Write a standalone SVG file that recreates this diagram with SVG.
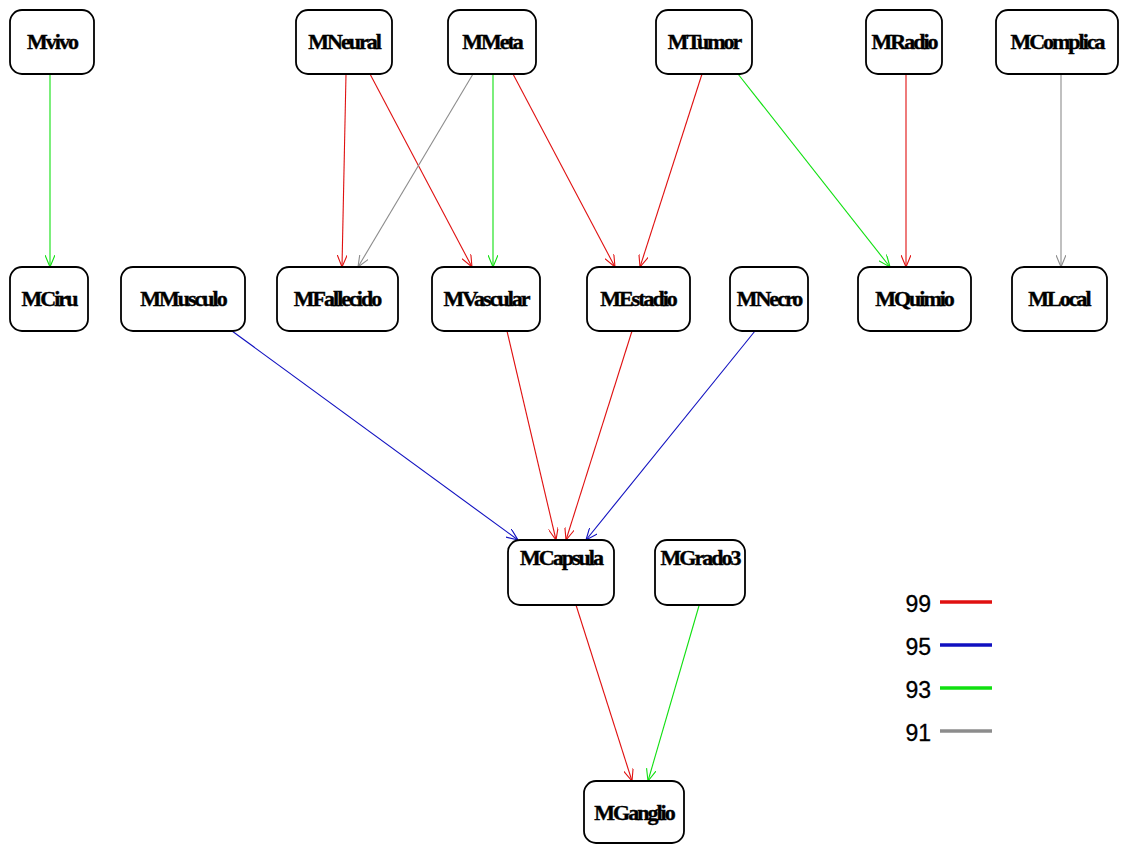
<svg xmlns="http://www.w3.org/2000/svg" width="1122" height="846" viewBox="0 0 1122 846">
<style>
.n rect{fill:#fff;stroke:#000;stroke-width:1.8}
.n text{font-family:"Liberation Serif",serif;font-weight:bold;font-size:22px;letter-spacing:-2px;text-anchor:middle;fill:#000;stroke:#000;stroke-width:0.4}
.e line{stroke-width:1.1;fill:none}
.r{stroke:#e01010}.b{stroke:#1010c0}.g{stroke:#10e010}.y{stroke:#8c8c8c}
.lg{font-family:"Liberation Sans",Arial,sans-serif;font-size:23px;fill:#000;stroke:#000;stroke-width:0.3}
</style>
<defs>
<marker id="ar" viewBox="0 0 12 10" refX="12" refY="5" markerWidth="12" markerHeight="10" markerUnits="userSpaceOnUse" orient="auto"><path d="M0,0 L12,5 L0,10" fill="none" stroke="#e01010" stroke-width="1.1"/></marker>
<marker id="ab" viewBox="0 0 12 10" refX="12" refY="5" markerWidth="12" markerHeight="10" markerUnits="userSpaceOnUse" orient="auto"><path d="M0,0 L12,5 L0,10" fill="none" stroke="#1010c0" stroke-width="1.1"/></marker>
<marker id="ag" viewBox="0 0 12 10" refX="12" refY="5" markerWidth="12" markerHeight="10" markerUnits="userSpaceOnUse" orient="auto"><path d="M0,0 L12,5 L0,10" fill="none" stroke="#10e010" stroke-width="1.1"/></marker>
<marker id="ay" viewBox="0 0 12 10" refX="12" refY="5" markerWidth="12" markerHeight="10" markerUnits="userSpaceOnUse" orient="auto"><path d="M0,0 L12,5 L0,10" fill="none" stroke="#8c8c8c" stroke-width="1.1"/></marker>
</defs>
<rect width="1122" height="846" fill="#fff"/>
<g id="edges" class="e">
<line class="g" x1="50" y1="74" x2="50" y2="267" marker-end="url(#ag)"/>
<line class="r" x1="346" y1="74" x2="342" y2="267" marker-end="url(#ar)"/>
<line class="r" x1="370" y1="74" x2="472" y2="267" marker-end="url(#ar)"/>
<line class="y" x1="473" y1="74" x2="358" y2="267" marker-end="url(#ay)"/>
<line class="g" x1="493" y1="74" x2="493" y2="267" marker-end="url(#ag)"/>
<line class="r" x1="513" y1="74" x2="615" y2="267" marker-end="url(#ar)"/>
<line class="r" x1="702" y1="74" x2="640" y2="267" marker-end="url(#ar)"/>
<line class="g" x1="738" y1="74" x2="890" y2="267" marker-end="url(#ag)"/>
<line class="r" x1="906" y1="74" x2="906" y2="267" marker-end="url(#ar)"/>
<line class="y" x1="1061" y1="74" x2="1061" y2="267" marker-end="url(#ay)"/>
<line class="b" x1="232" y1="331" x2="518" y2="540" marker-end="url(#ab)"/>
<line class="r" x1="507" y1="331" x2="556" y2="540" marker-end="url(#ar)"/>
<line class="r" x1="632" y1="331" x2="566" y2="540" marker-end="url(#ar)"/>
<line class="b" x1="755" y1="331" x2="586" y2="540" marker-end="url(#ab)"/>
<line class="r" x1="576" y1="605" x2="632" y2="781" marker-end="url(#ar)"/>
<line class="g" x1="703" y1="592" x2="648" y2="781" marker-end="url(#ag)"/>
</g>
<g id="Mvivo" class="n"><rect x="10" y="10" width="84" height="64" rx="12"/><text x="52" y="49">Mvivo</text></g>
<g id="MNeural" class="n"><rect x="296" y="10" width="96" height="64" rx="12"/><text x="344" y="49">MNeural</text></g>
<g id="MMeta" class="n"><rect x="448" y="10" width="88" height="64" rx="12"/><text x="492" y="49">MMeta</text></g>
<g id="MTumor" class="n"><rect x="656" y="10" width="96" height="64" rx="12"/><text x="704" y="49">MTumor</text></g>
<g id="MRadio" class="n"><rect x="866" y="10" width="76" height="64" rx="12"/><text x="904" y="49">MRadio</text></g>
<g id="MComplica" class="n"><rect x="996" y="10" width="122" height="64" rx="12"/><text x="1057" y="49">MComplica</text></g>
<g id="MCiru" class="n"><rect x="10" y="267" width="78" height="64" rx="12"/><text x="49" y="306">MCiru</text></g>
<g id="MMusculo" class="n"><rect x="121" y="267" width="124" height="64" rx="12"/><text x="183" y="306">MMusculo</text></g>
<g id="MFallecido" class="n"><rect x="277" y="267" width="121" height="64" rx="12"/><text x="337" y="306">MFallecido</text></g>
<g id="MVascular" class="n"><rect x="432" y="267" width="108" height="64" rx="12"/><text x="486" y="306">MVascular</text></g>
<g id="MEstadio" class="n"><rect x="587" y="267" width="103" height="64" rx="12"/><text x="638" y="306">MEstadio</text></g>
<g id="MNecro" class="n"><rect x="730" y="267" width="78" height="64" rx="12"/><text x="769" y="306">MNecro</text></g>
<g id="MQuimio" class="n"><rect x="858" y="267" width="113" height="64" rx="12"/><text x="914" y="306">MQuimio</text></g>
<g id="MLocal" class="n"><rect x="1012" y="267" width="95" height="64" rx="12"/><text x="1059" y="306">MLocal</text></g>
<g id="MCapsula" class="n"><rect x="508" y="540" width="106" height="65" rx="12"/><text x="561" y="565">MCapsula</text></g>
<g id="MGrado3" class="n"><rect x="655" y="540" width="90" height="65" rx="12"/><text x="700" y="565">MGrado3</text></g>
<g id="MGanglio" class="n"><rect x="584" y="781" width="100" height="62" rx="12"/><text x="634" y="820">MGanglio</text></g>
<g id="legend">
<text class="lg" x="931" y="612" text-anchor="end">99</text><line x1="940" y1="602" x2="992" y2="602" stroke="#e01010" stroke-width="3.5"/>
<text class="lg" x="931" y="655" text-anchor="end">95</text><line x1="940" y1="645" x2="992" y2="645" stroke="#1010c0" stroke-width="3.5"/>
<text class="lg" x="931" y="698" text-anchor="end">93</text><line x1="940" y1="688" x2="992" y2="688" stroke="#10e010" stroke-width="3.5"/>
<text class="lg" x="931" y="741" text-anchor="end">91</text><line x1="940" y1="731" x2="992" y2="731" stroke="#8c8c8c" stroke-width="3.5"/>
</g>
</svg>
